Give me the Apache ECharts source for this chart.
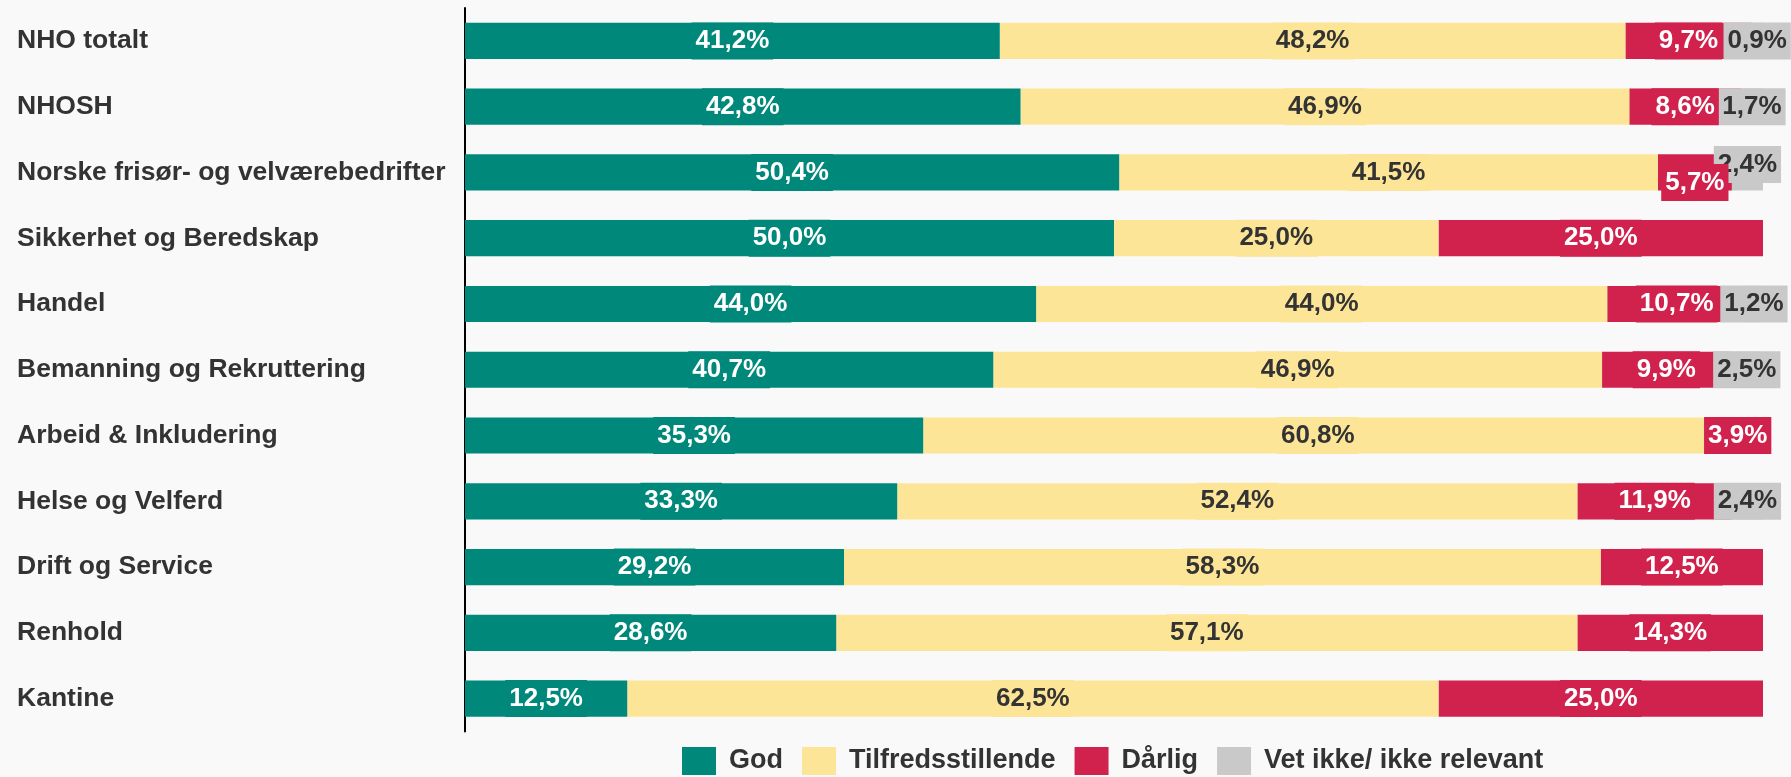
<!DOCTYPE html>
<html>
<head>
<meta charset="utf-8">
<script src="https://cdn.jsdelivr.net/npm/echarts@6/dist/echarts.min.js"></script>
<style>
  html, body { margin: 0; padding: 0; background: #f9f9f9; }
  #chart { width: 1791px; height: 777px; }
</style>
</head>
<body>
<div id="chart"></div>
<script>
// kategorier (topp til bunn)
const categories = [
  'NHO totalt', 'NHOSH', 'Norske frisør- og velværebedrifter', 'Sikkerhet og Beredskap',
  'Handel', 'Bemanning og Rekruttering', 'Arbeid & Inkludering', 'Helse og Velferd',
  'Drift og Service', 'Renhold', 'Kantine'
];
const god = [41.2, 42.8, 50.4, 50.0, 44.0, 40.7, 35.3, 33.3, 29.2, 28.6, 12.5];
const tilfreds = [48.2, 46.9, 41.5, 25.0, 44.0, 46.9, 60.8, 52.4, 58.3, 57.1, 62.5];
const darlig = [9.7, 8.6, 5.7, 25.0, 10.7, 9.9, 3.9, 11.9, 12.5, 14.3, 25.0];
const vetIkke = [0.9, 1.7, 2.4, null, 1.2, 2.5, null, 2.4, null, null, null];
const seriesNames = ['God', 'Tilfredsstillende', 'Dårlig', 'Vet ikke/ ikke relevant'];

const FONT = 'Arial, "Liberation Sans", sans-serif';
const colors = ['#00897b', '#fde597', '#d0224d', '#c9c9c9'];
const txtColors = ['#fff', '#333', '#fff', '#333'];

const fmt = p => p.value.toFixed(1).replace('.', ',') + '%';

function makeSeries(k, data, shiftRow, shiftY) {
  return {
    name: seriesNames[k],
    type: 'bar',
    stack: 'total',
    stackOrder: 'seriesDesc',
    barWidth: '55%',
    data: data,
    itemStyle: { color: colors[k] },
    label: {
      show: true,
      position: 'inside',
      formatter: fmt,
      color: txtColors[k],
      fontFamily: FONT,
      fontWeight: 'bold',
      fontSize: 26,
      lineHeight: 29,
      backgroundColor: colors[k],
      padding: [8, 4, 0, 4]
    },
    // etiketter som kolliderer i rad 3 flyttes litt opp/ned
    labelLayout: function (params) {
      if (params.dataIndex === shiftRow) return { dy: shiftY, hideOverlap: false };
      return { hideOverlap: false };
    },
    emphasis: { disabled: true }
  };
}

const chart = echarts.init(document.getElementById('chart'));
chart.setOption({
  backgroundColor: '#f9f9f9',
  animation: false,
  grid: { left: 465, right: 28, top: 8, bottom: 45.5, containLabel: false },
  legend: {
    data: seriesNames,
    left: 682,
    top: 747,
    padding: 0,
    itemWidth: 34,
    itemHeight: 28,
    itemGap: 19,
    icon: 'rect',
    textStyle: { fontFamily: FONT, fontWeight: 'bold', fontSize: 27, color: '#333', padding: [3, 0, 0, 8] }
  },
  xAxis: {
    type: 'value', min: 0, max: 100, show: false
  },
  yAxis: {
    type: 'category',
    data: categories,
    inverse: true,
    axisLine: { show: true, lineStyle: { color: '#000', width: 2 } },
    axisTick: { show: false },
    axisLabel: {
      align: 'left', margin: 448,
      fontFamily: FONT, fontWeight: 'bold', fontSize: 26.5, color: '#333',
      padding: [8, 0, 0, 0]
    }
  },
  // rekkefølge omvendt (seriesDesc) slik at Dårlig-etiketter tegnes over Vet ikke-etiketter
  series: [
    makeSeries(3, vetIkke, 2, -8),
    makeSeries(2, darlig, 2, 10),
    makeSeries(1, tilfreds, -1, 0),
    makeSeries(0, god, -1, 0)
  ]
});
</script>
</body>
</html>
